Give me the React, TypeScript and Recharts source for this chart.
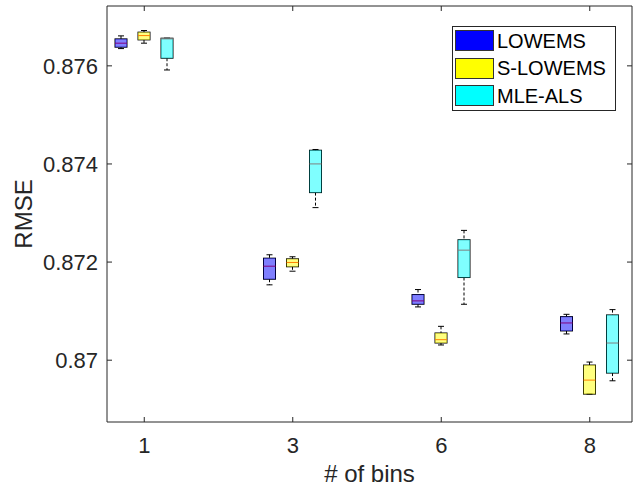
import React from "react";
import { ComposedChart, Bar, XAxis, YAxis, Legend } from "recharts";

const categories = ["1", "3", "6", "8"];

// each box: [lower whisker, q1, median, q3, upper whisker]
const lowems = [
  [0.876352, 0.87638, 0.876462, 0.87655, 0.876611],
  [0.871536, 0.87165, 0.871916, 0.87208, 0.872149],
  [0.871086, 0.87114, 0.871209, 0.871338, 0.87144],
  [0.870535, 0.870596, 0.870759, 0.870888, 0.870935],
];
const sLowems = [
  [0.876462, 0.876529, 0.876617, 0.876687, 0.87672],
  [0.871814, 0.871904, 0.871992, 0.872067, 0.872108],
  [0.87031, 0.87035, 0.870418, 0.870555, 0.87069],
  [0.869308, 0.869308, 0.869594, 0.869901, 0.869962],
];
const mleAls = [
  [0.875916, 0.876155, 0.87655, 0.876564, 0.876564],
  [0.87311, 0.873416, 0.874001, 0.87428, 0.874295],
  [0.87114, 0.871685, 0.872243, 0.872456, 0.872646],
  [0.86958, 0.869737, 0.87035, 0.870923, 0.871031],
];

const yTicks = [0.87, 0.872, 0.874, 0.876];
const yDomain = [0.86874, 0.87722];

const seriesKeys = ["lowems", "sLowems", "mleAls"];
const seriesNames = ["LOWEMS", "S-LOWEMS", "MLE-ALS"];
const seriesColors = ["#0000ff", "#ffff00", "#00ffff"];

const data = categories.map((cat, i) => ({
  cat,
  lowems: lowems[i],
  sLowems: sLowems[i],
  mleAls: mleAls[i],
}));

const AXIS = "#262626";
const FONT = "'Liberation Sans', Arial, sans-serif";

const fmtY = (v: number) => parseFloat(v.toFixed(3)).toString();

function BoxShape(props: any) {
  const { x, y, width, height, payload, seriesKey, color } = props;
  const [lo, q1, med, q3, hi] = payload[seriesKey];
  const top = Math.min(y, y + height);
  const h = Math.abs(height);
  // bar spans lo..hi, interior values follow the same linear scale
  const py = (v: number) => (hi === lo ? top : top + ((hi - v) / (hi - lo)) * h);
  const cx = x + width / 2;
  const cap = width / 4;
  const yHi = py(hi);
  const yQ3 = py(q3);
  const yMed = py(med);
  const yQ1 = py(q1);
  const yLo = py(lo);
  return (
    <g>
      <line x1={cx} x2={cx} y1={yHi} y2={yQ3} stroke="#000" strokeDasharray="3 2" />
      <line x1={cx} x2={cx} y1={yQ1} y2={yLo} stroke="#000" strokeDasharray="3 2" />
      <line x1={cx - cap} x2={cx + cap} y1={yHi} y2={yHi} stroke="#000" />
      <line x1={cx - cap} x2={cx + cap} y1={yLo} y2={yLo} stroke="#000" />
      <rect x={x} y={yQ3} width={width} height={Math.max(yQ1 - yQ3, 0.5)} fill="none" stroke="#000" />
      <line x1={x} x2={x + width} y1={yMed} y2={yMed} stroke="#ff0000" />
      <rect x={x} y={yQ3} width={width} height={Math.max(yQ1 - yQ3, 0.5)} fill={color} fillOpacity={0.5} />
    </g>
  );
}

function LegendBox() {
  return (
    <div
      style={{
        width: 162,
        height: 83,
        border: `1px solid ${AXIS}`,
        background: "#fff",
        fontFamily: FONT,
      }}
    >
      {seriesNames.map((n, i) => (
        <div key={n} style={{ display: "flex", alignItems: "center", height: 27.6 }}>
          <div
            style={{
              width: 37,
              height: 19,
              marginLeft: 2,
              background: seriesColors[i],
              border: "1px solid #333",
            }}
          />
          <span style={{ marginLeft: 3, fontSize: 20, color: "#000", lineHeight: "20px" }}>{n}</span>
        </div>
      ))}
    </div>
  );
}

function YLabel(props: any) {
  const { viewBox } = props;
  const cx = 23;
  const cy = viewBox.y + viewBox.height / 2;
  return (
    <text
      x={cx}
      y={cy}
      transform={`rotate(-90, ${cx}, ${cy})`}
      textAnchor="middle"
      dominantBaseline="central"
      fill={AXIS}
      fontSize={24}
      fontFamily={FONT}
    >
      RMSE
    </text>
  );
}

export default function App() {
  return (
    <div style={{ position: "absolute", left: 0, top: 0, width: 634, height: 487, background: "#fff" }}>
      <ComposedChart
        width={634}
        height={487}
        data={data}
        barGap={11}
        margin={{ top: 0, right: 0, bottom: 0, left: 0 }}
        style={{ fontFamily: FONT }}
      >
        <XAxis
          dataKey="cat"
          type="category"
          padding={{ left: -37, right: -32 }}
          height={65}
          tickSize={-5}
          tickMargin={20}
          tick={{ fill: AXIS, fontSize: 22 }}
          axisLine={{ stroke: AXIS }}
          tickLine={{ stroke: AXIS }}
          label={{ value: "# of bins", position: "insideBottom", offset: 5, fill: AXIS, fontSize: 24 }}
        />
        <XAxis
          xAxisId="top"
          dataKey="cat"
          type="category"
          orientation="top"
          padding={{ left: -37, right: -32 }}
          height={6}
          tickSize={-5}
          tickFormatter={() => ""}
          axisLine={{ stroke: AXIS }}
          tickLine={{ stroke: AXIS }}
        />
        <YAxis
          type="number"
          domain={yDomain}
          ticks={yTicks}
          allowDataOverflow
          width={107}
          tickSize={-5}
          tickMargin={14}
          tickFormatter={fmtY}
          tick={{ fill: AXIS, fontSize: 22 }}
          axisLine={{ stroke: AXIS }}
          tickLine={{ stroke: AXIS }}
          label={{ content: (p: any) => <YLabel {...p} /> }}
        />
        <YAxis
          yAxisId="right"
          orientation="right"
          type="number"
          domain={yDomain}
          ticks={yTicks}
          allowDataOverflow
          width={2}
          tickSize={-5}
          tickFormatter={() => ""}
          axisLine={{ stroke: AXIS }}
          tickLine={{ stroke: AXIS }}
        />
        {seriesKeys.map((k, i) => (
          <Bar
            key={k}
            dataKey={(d: any) => [d[k][0], d[k][4]]}
            name={seriesNames[i]}
            barSize={12}
            isAnimationActive={false}
            shape={(p: any) => <BoxShape {...p} seriesKey={k} color={seriesColors[i]} />}
          />
        ))}
        <Legend
          layout="vertical"
          align="center"
          verticalAlign="middle"
          wrapperStyle={{ left: 452, top: 26, width: "auto" }}
          content={() => <LegendBox />}
        />
      </ComposedChart>
    </div>
  );
}
